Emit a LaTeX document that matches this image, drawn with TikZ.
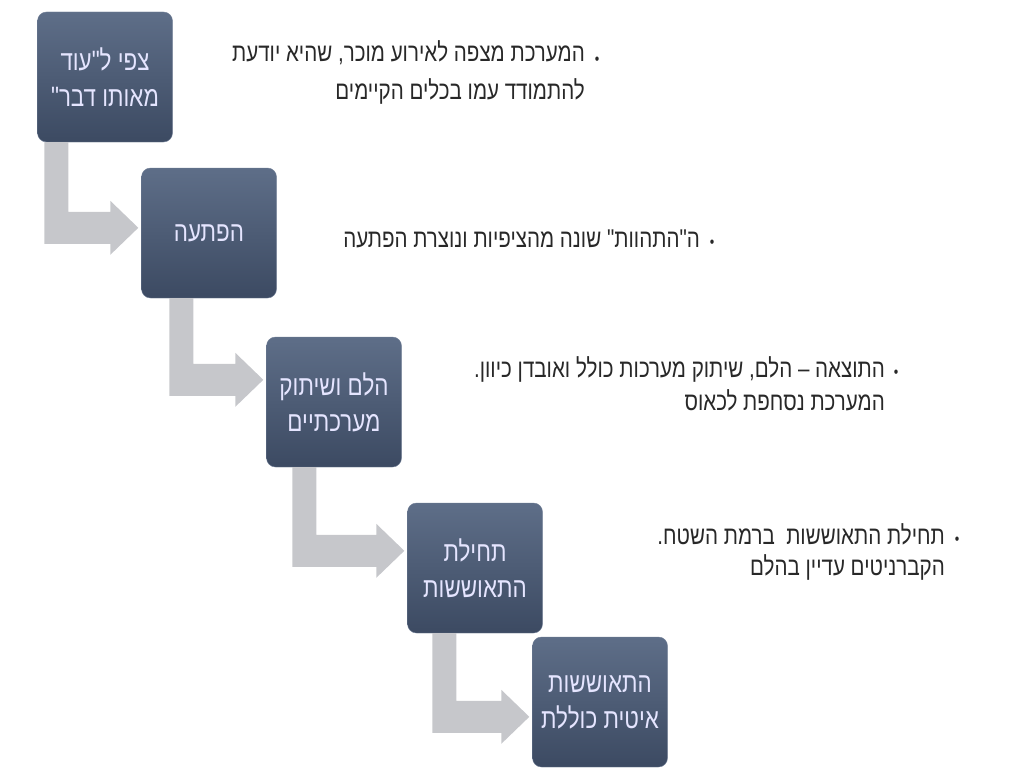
\documentclass[tikz,border=0pt]{standalone}
\usepackage{fontspec}
\usepackage{tikz}
\usetikzlibrary{calc}
\TeXXeTstate=1
\newfontfamily\heb[Script=Hebrew,FakeStretch=0.8]{Liberation Sans}
\newcommand{\rl}[1]{\beginR #1\endR}
\definecolor{stagetop}{RGB}{94,110,136}
\definecolor{stagebot}{RGB}{60,74,98}
\definecolor{stageline}{RGB}{112,126,150}
\definecolor{flowgray}{RGB}{198,199,203}
\definecolor{notetext}{RGB}{40,40,40}
% bent connector: from box, to box, inset of the bar, drop of the tip below the top of the target
\newcommand{\bentarrow}[4]{%
  \fill[flow] let \p1=(#1.south west), \p2=(#2.north west) in
    (\x1+#3,\y1) -- (\x1+#3+24pt,\y1) -- (\x1+#3+24pt,\y2-#4+16pt)
    -- (\x2-31pt,\y2-#4+16pt) -- (\x2-31pt,\y2-#4+27pt) -- (\x2-3pt,\y2-#4)
    -- (\x2-31pt,\y2-#4-27pt) -- (\x2-31pt,\y2-#4-16pt) -- (\x1+#3,\y2-#4-16pt) -- cycle;
}

\begin{document}
\begin{tikzpicture}[x=1pt,y=-1pt,
    stage/.style={draw=stageline,rounded corners=9pt,top color=stagetop,bottom color=stagebot,
      minimum width=135pt,minimum height=130pt,inner sep=2pt,align=center,
      text=white!90!blue,font=\heb\fontsize{28}{36}\selectfont},
    descnote/.style={anchor=base east,align=right,inner sep=0pt,text=notetext,
      font=\heb\fontsize{25.7}{34}\selectfont},
    bul/.style={anchor=base,inner sep=0pt,text=notetext,font=\heb\fontsize{16}{16}\selectfont},
    flow/.style={fill=flowgray}
]
    \useasboundingbox (0,0) rectangle (1024,768);

    % Stages
    \node[stage] (S1) at (105,77) {\rl{צפי ל"עוד}\\\rl{מאותו דבר"}};
    \node[stage] (S2) at (209,233) {\rl{הפתעה}};
    \node[stage] (S3) at (334,402) {\rl{הלם ושיתוק}\\\rl{מערכתיים}};
    \node[stage] (S4) at (475,568) {\rl{תחילת}\\\rl{התאוששות}};
    \node[stage] (S5) at (600,702) {\rl{התאוששות}\\\rl{איטית כוללת}};

    % Bent arrows between stages
    \bentarrow{S1}{S2}{7pt}{60pt}
    \bentarrow{S2}{S3}{28pt}{43pt}
    \bentarrow{S3}{S4}{26pt}{48pt}
    \bentarrow{S4}{S5}{25pt}{80pt}

    % Notes (anchored at the baseline of their last line)
    \node[descnote] (N1) at (585,99) {\rl{המערכת מצפה לאירוע מוכר, שהיא יודעת}\\[3pt]\rl{להתמודד עמו בכלים הקיימים}};
    \node[bul] (D1) at (597,64) {•};
    \node[descnote] (N2) at (700,247) {\rl{ה"התהוות" שונה מהציפיות ונוצרת הפתעה}};
    \node[bul] (D2) at (712,247) {•};
    \node[descnote] (N3) at (885,410) {\rl{התוצאה – הלם, שיתוק מערכות כולל ואובדן כיוון.}\\[-1pt]\rl{המערכת נסחפת לכאוס}};
    \node[bul] (D3) at (896,377) {•};
    \node[descnote] (N4) at (945,575) {\rl{תחילת התאוששות\ \ ברמת השטח.}\\[-3pt]\rl{הקברניטים עדיין בהלם}};
    \node[bul] (D4) at (957,544) {•};
\end{tikzpicture}
\end{document}
